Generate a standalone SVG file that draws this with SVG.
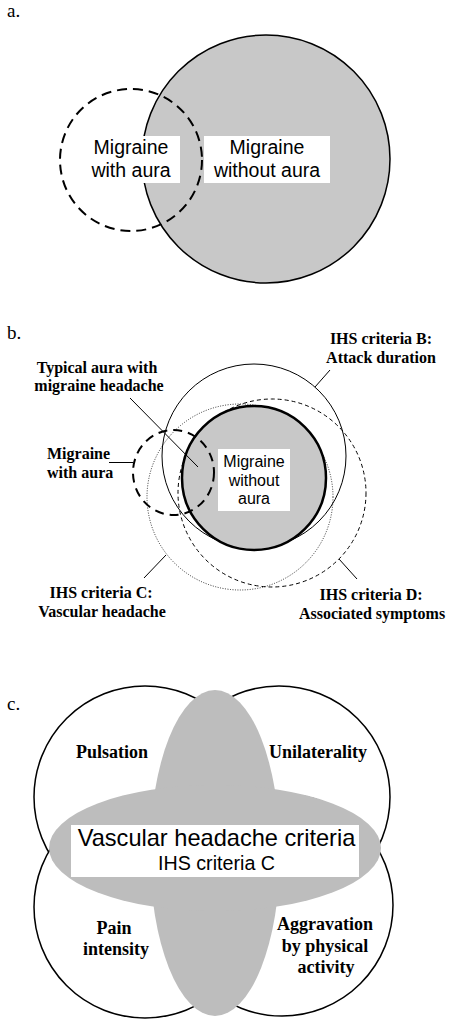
<svg xmlns="http://www.w3.org/2000/svg" width="450" height="1028" viewBox="0 0 450 1028">
<style>
.sans{font-family:"Liberation Sans",Arial,sans-serif;fill:#000}
.ser{font-family:"Liberation Serif","Times New Roman",serif;fill:#000}
.bold{font-family:"Liberation Serif","Times New Roman",serif;font-weight:bold;font-size:16px;fill:#000}
.bold18{font-family:"Liberation Serif","Times New Roman",serif;font-weight:bold;font-size:18px;fill:#000}
.box{fill:#fff;stroke:none}
.lead{stroke:#000;stroke-width:1;fill:none}
</style>
<rect width="450" height="1028" fill="#fff"/>

<!-- Panel a -->
<text class="ser" x="7" y="17" font-size="19">a.</text>
<g id="a-without-aura">
  <circle cx="266" cy="159" r="124" fill="#c8c8c8" stroke="#000" stroke-width="1.5"/>
</g>
<g id="a-with-aura">
  <circle cx="131" cy="160" r="71" fill="none" stroke="#000" stroke-width="2" stroke-dasharray="10,6"/>
</g>
<g id="a-label-with">
  <rect class="box" x="89" y="136" width="91" height="47"/>
  <text class="sans" font-size="19.5" text-anchor="middle" x="131" y="154">Migraine</text>
  <text class="sans" font-size="19.5" text-anchor="middle" x="131" y="177">with aura</text>
</g>
<g id="a-label-without">
  <rect class="box" x="204" y="136" width="126" height="47"/>
  <text class="sans" font-size="19.5" text-anchor="middle" x="267" y="154">Migraine</text>
  <text class="sans" font-size="19.5" text-anchor="middle" x="267" y="177">without aura</text>
</g>

<!-- Panel b -->
<text class="ser" x="7" y="339" font-size="19">b.</text>
<g id="b-criteria-B">
  <circle cx="254" cy="456" r="92" fill="none" stroke="#000" stroke-width="1"/>
</g>
<g id="b-criteria-C">
  <circle cx="240" cy="497" r="93" fill="none" stroke="#000" stroke-width="0.8" stroke-dasharray="1,1.5"/>
</g>
<g id="b-criteria-D">
  <circle cx="272" cy="493" r="94" fill="none" stroke="#000" stroke-width="1" stroke-dasharray="4,3"/>
</g>
<g id="b-without-aura">
  <circle cx="254" cy="478" r="72" fill="#c8c8c8" stroke="#000" stroke-width="2.5"/>
</g>
<g id="b-with-aura">
  <ellipse cx="173.5" cy="472.5" rx="40.5" ry="42.5" fill="none" stroke="#000" stroke-width="2" stroke-dasharray="9,6"/>
</g>
<g id="connectors">
  <line class="lead" x1="130" y1="398" x2="198" y2="467"/>
  <line class="lead" x1="109" y1="462.5" x2="133" y2="462.5"/>
  <line class="lead" x1="330" y1="370" x2="315" y2="387"/>
  <line class="lead" x1="144" y1="578" x2="166" y2="555"/>
  <line class="lead" x1="339" y1="559" x2="357" y2="579"/>
</g>
<g id="b-label-without">
  <rect class="box" x="218" y="449" width="72" height="62"/>
  <text class="sans" font-size="16" text-anchor="middle" x="254" y="467">Migraine</text>
  <text class="sans" font-size="16" text-anchor="middle" x="254" y="485.5">without</text>
  <text class="sans" font-size="16" text-anchor="middle" x="254" y="504">aura</text>
</g>
<g id="b-label-typical">
  <text class="bold" text-anchor="middle" x="97" y="373">Typical aura with</text>
  <text class="bold" text-anchor="middle" x="99" y="391">migraine headache</text>
</g>
<g id="b-label-with">
  <text class="bold" x="47" y="459">Migraine</text>
  <text class="bold" x="47" y="478">with aura</text>
</g>
<g id="b-label-B">
  <text class="bold" text-anchor="middle" x="381" y="344">IHS criteria B:</text>
  <text class="bold" text-anchor="middle" x="381" y="363">Attack duration</text>
</g>
<g id="b-label-C">
  <text class="bold" text-anchor="middle" x="101" y="598">IHS criteria C:</text>
  <text class="bold" text-anchor="middle" x="102" y="617">Vascular headache</text>
</g>
<g id="b-label-D">
  <text class="bold" text-anchor="middle" x="371" y="600">IHS criteria D:</text>
  <text class="bold" text-anchor="middle" x="372" y="619">Associated symptoms</text>
</g>

<!-- Panel c -->
<text class="ser" x="7" y="710" font-size="19">c.</text>
<g id="c-pulsation">
  <circle cx="145" cy="797" r="111" fill="#fff" stroke="#000" stroke-width="1.5"/>
</g>
<g id="c-unilaterality">
  <circle cx="279" cy="797" r="111" fill="#fff" stroke="#000" stroke-width="1.5"/>
</g>
<g id="c-pain">
  <circle cx="145" cy="907" r="111" fill="#fff" stroke="#000" stroke-width="1.5"/>
</g>
<g id="c-aggravation">
  <circle cx="282" cy="905" r="111" fill="#fff" stroke="#000" stroke-width="1.5"/>
</g>
<g id="c-center">
  <ellipse cx="215" cy="853" rx="65" ry="163" fill="#bdbdbd"/>
  <ellipse cx="215" cy="848" rx="166" ry="63" fill="#bdbdbd"/>
  <rect class="box" x="71" y="825" width="288" height="52"/>
  <text class="sans" font-size="23.6" text-anchor="middle" x="216.5" y="846">Vascular headache criteria</text>
  <text class="sans" font-size="19.7" text-anchor="middle" x="216.5" y="870">IHS criteria C</text>
</g>
<g id="c-labels">
  <text class="bold18" text-anchor="middle" x="112" y="758">Pulsation</text>
  <text class="bold18" text-anchor="middle" x="318" y="758">Unilaterality</text>
  <text class="bold18" text-anchor="middle" x="114" y="934">Pain</text>
  <text class="bold18" text-anchor="middle" x="116" y="955">intensity</text>
  <text class="bold18" text-anchor="middle" x="325" y="930">Aggravation</text>
  <text class="bold18" text-anchor="middle" x="325" y="952">by physical</text>
  <text class="bold18" text-anchor="middle" x="326" y="973">activity</text>
</g>
</svg>
